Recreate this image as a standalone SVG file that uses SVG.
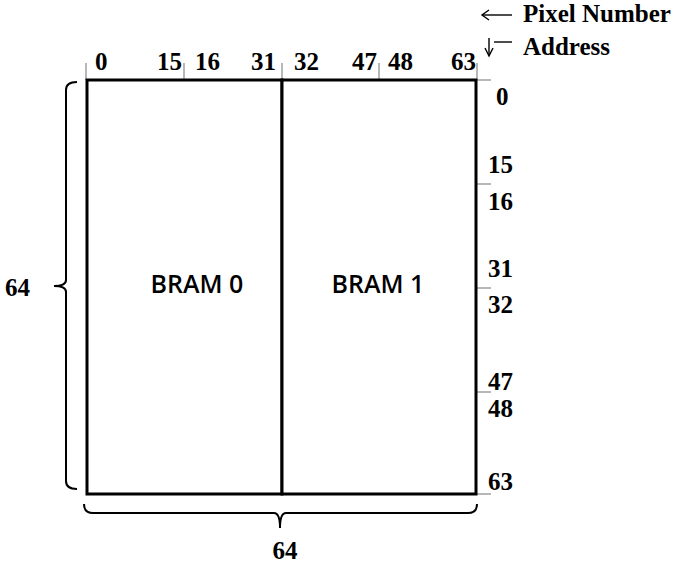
<svg xmlns="http://www.w3.org/2000/svg" width="673" height="565" viewBox="0 0 673 565">
<style>
.num{font-family:"Liberation Serif","Times New Roman",serif;font-weight:bold;font-size:25px;fill:#000}
.lbl{font-family:"Liberation Serif","Times New Roman",serif;font-weight:bold;font-size:25px;fill:#000}
.bram{font-family:"Open Sans","Liberation Sans",Arial,sans-serif;font-weight:600;font-size:25px;fill:#000;text-anchor:middle}
.box{fill:#fff;stroke:#000;stroke-width:3}
.tick{stroke:#888;stroke-width:1.2;fill:none}
.brace{stroke:#000;stroke-width:2;fill:none}
.arr{stroke:#000;stroke-width:1.4;fill:none}
</style>
<rect width="673" height="565" fill="#fff"/>
<g id="connectors">
  <g id="top-ticks" class="tick">
    <line x1="86" y1="63" x2="86" y2="80"/>
    <line x1="184" y1="63" x2="184" y2="80"/>
    <line x1="282" y1="63" x2="282" y2="80"/>
    <line x1="379" y1="63" x2="379" y2="80"/>
    <line x1="477" y1="63" x2="477" y2="80"/>
  </g>
  <g id="right-ticks" class="tick">
    <line x1="476" y1="80" x2="491" y2="80"/>
    <line x1="476" y1="184" x2="491" y2="184"/>
    <line x1="476" y1="288" x2="491" y2="288"/>
    <line x1="476" y1="392" x2="491" y2="392"/>
    <line x1="476" y1="494" x2="491" y2="494"/>
  </g>
  <path id="left-brace" class="brace" d="M77,82 Q66,82 66,90 V280 Q66,286 54,286 Q66,286 66,292 V481 Q66,489 77,489"/>
  <path id="bottom-brace" class="brace" d="M84,504 Q84,513 93,513 H274 Q280,513 280,528 Q280,513 286,513 H468 Q477,513 477,504"/>
  <g id="legend-arrows" class="arr">
    <line x1="482" y1="15" x2="512" y2="15"/>
    <polyline points="489,10 482,15 489,20"/>
    <line x1="494" y1="42" x2="512" y2="42"/>
    <line x1="489" y1="38" x2="489" y2="55"/>
    <polyline points="485,48 489,56 493,48"/>
  </g>
</g>
<g id="bram0">
  <rect class="box" x="87" y="80" width="195" height="414"/>
  <text class="bram" x="197" y="293">BRAM 0</text>
</g>
<g id="bram1">
  <rect class="box" x="282" y="80" width="194" height="414"/>
  <text class="bram" x="378" y="293">BRAM 1</text>
</g>
<g id="pixel-labels">
  <text class="num" x="95" y="70">0</text>
  <text class="num" x="157" y="70">15</text>
  <text class="num" x="195" y="70">16</text>
  <text class="num" x="251" y="70">31</text>
  <text class="num" x="294" y="70">32</text>
  <text class="num" x="352" y="70">47</text>
  <text class="num" x="388" y="70">48</text>
  <text class="num" x="451" y="70">63</text>
</g>
<g id="address-labels">
  <text class="num" x="496" y="105">0</text>
  <text class="num" x="488" y="173">15</text>
  <text class="num" x="488" y="210">16</text>
  <text class="num" x="488" y="277">31</text>
  <text class="num" x="488" y="313">32</text>
  <text class="num" x="488" y="390">47</text>
  <text class="num" x="488" y="417">48</text>
  <text class="num" x="488" y="490">63</text>
</g>
<g id="size-labels">
  <text class="lbl" x="5" y="296">64</text>
  <text class="lbl" x="285" y="559" text-anchor="middle">64</text>
</g>
<g id="legend">
  <text class="lbl" x="523" y="22">Pixel Number</text>
  <text class="lbl" x="523" y="55">Address</text>
</g>
</svg>
